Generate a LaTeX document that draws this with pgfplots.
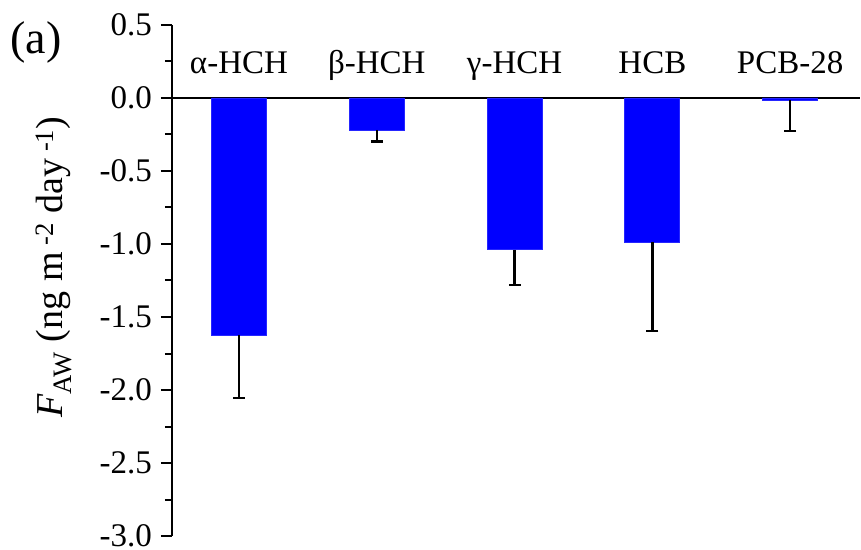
\documentclass[border=0pt]{standalone}
\usepackage{pgfplots}
\pgfplotsset{compat=1.18}
\usepackage{fontspec}
\setmainfont{Liberation Serif}
\begin{document}
\begin{tikzpicture}
\begin{axis}[
  scale only axis,
  width=688pt, height=511pt,
  at={(0,0)}, anchor=south west,
  xmin=0.514, xmax=5.507,
  ymin=-3.0, ymax=0.5,
  axis x line=middle,
  axis y line=left,
  axis line style={-, line width=2pt, black},
  xtick=\empty,
  minor xtick={1.5,2.5,3.5,4.5},
  ytick={-3,-2.5,...,0.5},
  minor ytick={-2.75,-2.25,-1.75,-1.25,-0.75,-0.25,0.25},
  tick align=outside,
  major tick length=11pt,
  minor tick length=7pt,
  every tick/.style={line width=2pt, black},
  /pgf/number format/assume math mode=true,
  yticklabel style={font=\fontsize{33}{33}\selectfont, /pgf/number format/fixed, /pgf/number format/zerofill, /pgf/number format/precision=1, inner xsep=9pt, inner ysep=0.5pt},
  ylabel={\textit{F}\textsubscript{AW} (ng m\textsuperscript{ -2} day\textsuperscript{ -1})},
  ylabel style={font=\fontsize{38}{38}\selectfont, at={(axis description cs:-0.172,0.526)}, anchor=center, rotate=0},
  clip=false,
]
\addplot[ybar, bar width=55pt, fill=blue, draw=blue!85!white, line width=0.8pt,
  error bars/.cd, y dir=minus, y explicit,
  error bar style={line width=2.5pt, black},
  error mark options={rotate=90, mark size=6pt, line width=2.5pt, black}]
  table[x=x, y=y, y error=e] {
x y e
1 -1.623 0.432
2 -0.219 0.080
3 -1.040 0.240
4 -0.986 0.610
5 -0.014 0.212
};
\node[font=\fontsize{33}{33}\selectfont, anchor=base] at (axis cs:1,0.17) {α-HCH};
\node[font=\fontsize{33}{33}\selectfont, anchor=base] at (axis cs:2,0.17) {β-HCH};
\node[font=\fontsize{33}{33}\selectfont, anchor=base] at (axis cs:3,0.17) {γ-HCH};
\node[font=\fontsize{33}{33}\selectfont, anchor=base] at (axis cs:4,0.17) {HCB};
\node[font=\fontsize{33}{33}\selectfont, anchor=base] at (axis cs:5,0.17) {PCB-28};
\end{axis}
\node[font=\fontsize{46}{46}\selectfont] at (-136pt,494pt) {(a)};
\path[use as bounding box] (-172pt,-13pt) rectangle (689pt,536pt);
\end{tikzpicture}
\end{document}
